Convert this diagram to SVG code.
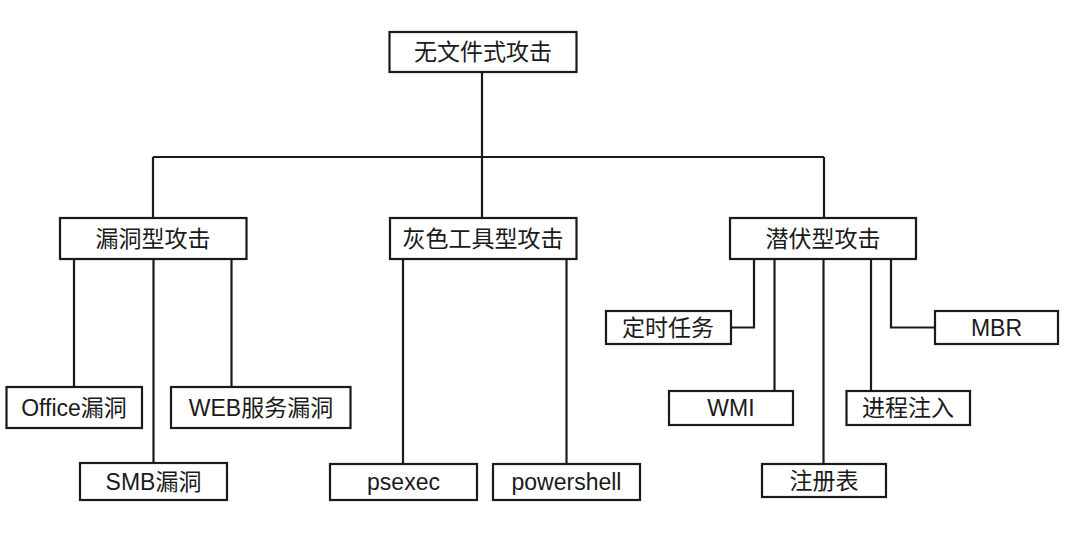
<svg xmlns="http://www.w3.org/2000/svg" width="1080" height="541" viewBox="0 0 1080 541">
<style>
.box{fill:#fff;stroke:#1a1a1a;stroke-width:2.2}
.lbl{font-family:"Liberation Sans","Noto Sans CJK SC",sans-serif;font-size:23px;fill:#1a1a1a;text-anchor:middle;dominant-baseline:central}
.con{fill:none;stroke:#1a1a1a;stroke-width:2.2}
</style>
<rect width="1080" height="541" fill="#fff"/>
<g id="connectors">
<path class="con" d="M482,72 V157"/>
<path class="con" d="M153,157 H824"/>
<path class="con" d="M153,157 V218"/>
<path class="con" d="M482,157 V218"/>
<path class="con" d="M824,157 V218"/>
<path class="con" d="M74,259 V387"/>
<path class="con" d="M153.5,259 V463"/>
<path class="con" d="M231.5,259 V387"/>
<path class="con" d="M403,259 V464"/>
<path class="con" d="M566.5,259 V464"/>
<path class="con" d="M754,259 V327.5 H731"/>
<path class="con" d="M774.5,259 V391"/>
<path class="con" d="M823.5,259 V464"/>
<path class="con" d="M871,259 V391"/>
<path class="con" d="M891,259 V327.5 H935"/>
</g>
<g id="root"><rect class="box" x="389.5" y="32" width="187" height="40"/><text class="lbl" x="483" y="52">无文件式攻击</text></g>
<g id="vuln"><rect class="box" x="60" y="218" width="186.5" height="41"/><text class="lbl" x="153" y="238.5">漏洞型攻击</text></g>
<g id="gray"><rect class="box" x="390" y="218" width="186.5" height="41"/><text class="lbl" x="483" y="238.5">灰色工具型攻击</text></g>
<g id="latent"><rect class="box" x="730" y="218" width="186" height="41"/><text class="lbl" x="823" y="238.5">潜伏型攻击</text></g>
<g id="office"><rect class="box" x="6.5" y="387" width="135.5" height="41"/><text class="lbl" x="74" y="407.5">Office漏洞</text></g>
<g id="web"><rect class="box" x="171" y="387" width="179.5" height="41"/><text class="lbl" x="261" y="407.5">WEB服务漏洞</text></g>
<g id="smb"><rect class="box" x="80" y="463" width="147" height="37"/><text class="lbl" x="153.5" y="481.5">SMB漏洞</text></g>
<g id="psexec"><rect class="box" x="330" y="464" width="147" height="36"/><text class="lbl" x="403.5" y="482">psexec</text></g>
<g id="powershell"><rect class="box" x="493" y="464" width="147" height="36"/><text class="lbl" x="566.5" y="482">powershell</text></g>
<g id="task"><rect class="box" x="606" y="311" width="125" height="33"/><text class="lbl" x="668" y="327.5">定时任务</text></g>
<g id="mbr"><rect class="box" x="935" y="311" width="123" height="33"/><text class="lbl" x="996.5" y="327.5">MBR</text></g>
<g id="wmi"><rect class="box" x="669" y="391" width="124" height="34"/><text class="lbl" x="731" y="408">WMI</text></g>
<g id="inject"><rect class="box" x="846.5" y="391" width="123.5" height="34"/><text class="lbl" x="908" y="408">进程注入</text></g>
<g id="registry"><rect class="box" x="762" y="464" width="124" height="33"/><text class="lbl" x="824" y="480.5">注册表</text></g>
</svg>
